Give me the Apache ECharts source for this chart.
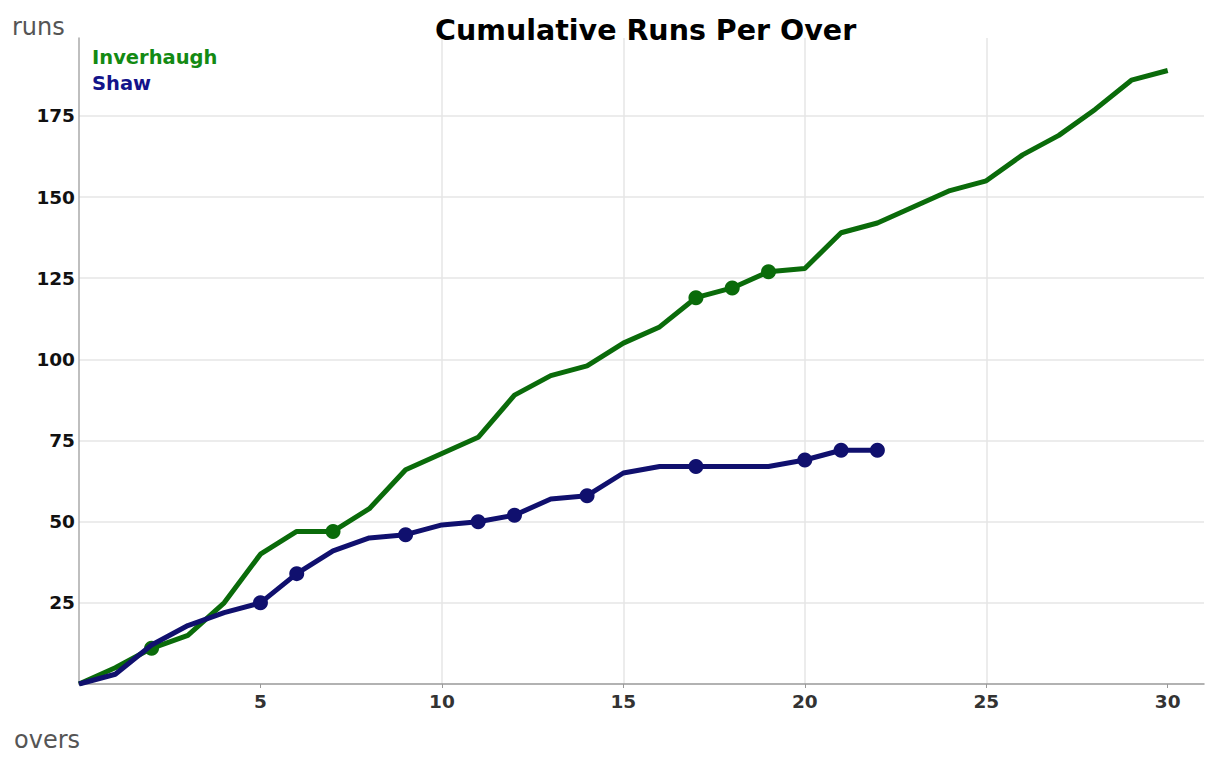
<!DOCTYPE html>
<html>
<head>
<meta charset="utf-8">
<script src="https://cdn.jsdelivr.net/npm/echarts@6/dist/echarts.min.js"></script>
<style>
html,body{margin:0;padding:0;background:#fff;}
#chart{width:1208px;height:765px;}
</style>
</head>
<body>
<div id="chart"></div>
<script>
const titleText = "Cumulative Runs Per Over";
const teamNames = ["Inverhaugh", "Shaw"];
const inverhaughRuns = [0,5,11,15,25,40,47,47,54,66,71,76,89,95,98,105,110,119,122,127,128,139,142,147,152,155,163,169,177,186,189];
const shawRuns = [0,3,12,18,22,25,34,41,45,46,49,50,52,57,58,65,67,67,67,67,69,72,72];
const inverhaughWickets = [2,7,17,18,19];
const shawWickets = [5,6,9,11,12,14,17,20,21,22];
const xTickLabels = [5,10,15,20,25,30];
const yTickLabels = [25,50,75,100,125,150,175];

const FONT = "'DejaVu Sans', 'Liberation Sans', Arial, sans-serif";
const greenLine = '#0a6b0a', blueLine = '#10106e';

function build(runs, wickets) {
  return runs.map((r, i) => wickets.includes(i)
    ? { value: [i, r], symbol: 'circle', symbolSize: 15 }
    : { value: [i, r], symbol: 'none' });
}

const chart = echarts.init(document.getElementById('chart'), null, { renderer: 'svg' });
chart.setOption({
  backgroundColor: '#fff',
  animation: false,
  textStyle: { fontFamily: FONT },
  title: {
    text: titleText, left: 435, top: 16, padding: 0,
    textStyle: { fontFamily: FONT, fontSize: 28.5, fontWeight: 'bold', color: '#000' }
  },
  legend: {
    orient: 'vertical', left: 87, top: 47, padding: 0,
    icon: 'none', itemWidth: 0, itemHeight: 20, itemGap: 6.5,
    selectedMode: false,
    data: [
      { name: teamNames[0], textStyle: { color: '#138a13' } },
      { name: teamNames[1], textStyle: { color: '#13138a' } }
    ],
    textStyle: { fontFamily: FONT, fontSize: 19.5, fontWeight: 'bold' }
  },
  graphic: [
    { type: 'text', left: 12, top: 15, style: { text: 'runs', fontFamily: FONT, fontSize: 24, fill: '#555' } },
    { type: 'text', left: 14, top: 728, style: { text: 'overs', fontFamily: FONT, fontSize: 24, fill: '#555' } }
  ],
  grid: { left: 79, right: 4, top: 38, bottom: 81, containLabel: false },
  xAxis: {
    type: 'value', min: 0, max: 31, interval: 5,
    axisLine: { show: true, lineStyle: { color: '#999', width: 1.5 } },
    axisTick: { show: true, length: 4, customValues: xTickLabels, lineStyle: { color: '#999' } },
    axisLabel: { customValues: xTickLabels, margin: 8, fontFamily: FONT, fontSize: 18.5, fontWeight: 'bold', color: '#333' },
    splitLine: { show: true, showMinLine: false, showMaxLine: false, lineStyle: { color: '#e6e6e6', width: 1.5 } }
  },
  yAxis: {
    type: 'value', min: 0, max: 199, interval: 25,
    axisLine: { show: true, lineStyle: { color: '#aaa', width: 1.5 } },
    axisTick: { show: false },
    axisLabel: { customValues: yTickLabels, margin: 4, fontFamily: FONT, fontSize: 18.5, fontWeight: 'bold', color: '#111' },
    splitLine: { show: true, showMinLine: false, showMaxLine: false, lineStyle: { color: '#e6e6e6', width: 1.5 } }
  },
  series: [
    {
      name: teamNames[0], type: 'line', data: build(inverhaughRuns, inverhaughWickets),
      lineStyle: { color: greenLine, width: 5 }, itemStyle: { color: greenLine },
      emphasis: { disabled: true }, z: 2
    },
    {
      name: teamNames[1], type: 'line', data: build(shawRuns, shawWickets),
      lineStyle: { color: blueLine, width: 5 }, itemStyle: { color: blueLine },
      emphasis: { disabled: true }, z: 3
    }
  ]
});
</script>
</body>
</html>
